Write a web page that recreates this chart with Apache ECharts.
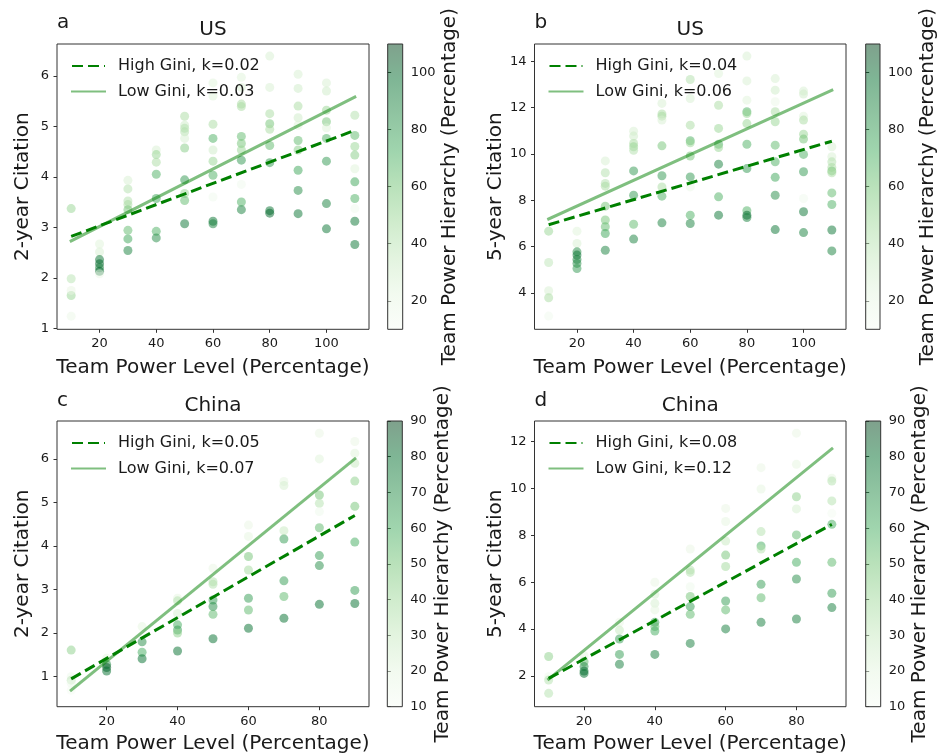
<!DOCTYPE html>
<html><head><meta charset="utf-8">
<script src="https://cdn.jsdelivr.net/npm/echarts@6/dist/echarts.min.js"></script>
<style>html,body{margin:0;padding:0;background:#fff}#c{width:939px;height:755px}</style>
</head><body><div id="c"></div>
<script>
// ---------- tick labels ----------
const powerTicksUS = [20, 40, 60, 80, 100];
const powerTicksCN = [20, 40, 60, 80];
const cite2TicksUS = [1, 2, 3, 4, 5, 6];
const cite5TicksUS = [4, 6, 8, 10, 12, 14];
const cite2TicksCN = [1, 2, 3, 4, 5, 6];
const cite5TicksCN = [2, 4, 6, 8, 10, 12];
const hierTicksUS = [20, 40, 60, 80, 100];
const hierTicksCN = [10, 20, 30, 40, 50, 60, 70, 80, 90];
const hierRangeUS = [10, 110];
const hierRangeCN = [10, 90];

// ---------- points: [team power level, citation, team power hierarchy] ----------
const pointsA = [
  [10,3.37,50],[10,1.98,40],[10,1.65,50],[10,1.75,20],[10,1.24,18],
  [20,2.67,25],[20,2.51,28],[20,2.36,95],[20,2.28,100],[20,2.20,90],[20,2.13,100],[20,2.08,18],
  [30,3.93,28],[30,3.76,42],[30,3.52,42],[30,3.45,45],[30,3.35,60],[30,2.94,65],[30,2.77,75],[30,2.54,90],
  [40,4.53,28],[40,4.44,50],[40,4.29,45],[40,4.05,70],[40,3.57,75],[40,2.92,70],[40,2.79,85],
  [50,5.20,45],[50,5.02,32],[50,4.96,42],[50,4.89,42],[50,4.76,28],[50,4.57,55],[50,3.94,80],[50,3.67,50],[50,3.53,65],[50,3.07,95],
  [60,5.86,25],[60,5.60,25],[60,5.04,45],[60,4.76,70],[60,4.53,32],[60,4.31,50],[60,4.03,70],[60,3.60,15],[60,3.12,95],[60,3.07,90],
  [70,5.97,25],[70,5.77,28],[70,5.44,45],[70,5.39,45],[70,4.80,65],[70,4.66,60],[70,4.53,50],[70,4.33,80],[70,3.85,15],[70,3.50,70],[70,3.35,90],
  [80,6.39,28],[80,5.77,28],[80,5.25,45],[80,5.05,60],[80,4.94,45],[80,4.62,65],[80,4.28,80],[80,3.33,95],[80,3.28,100],
  [90,6.03,28],[90,5.75,32],[90,5.40,45],[90,5.17,32],[90,5.02,25],[90,4.72,65],[90,4.53,55],[90,4.13,75],[90,3.73,85],[90,3.27,95],
  [100,5.86,28],[100,5.70,32],[100,5.32,50],[100,5.09,60],[100,4.97,25],[100,4.76,70],[100,4.31,80],[100,3.47,90],[100,2.97,95],
  [110,5.22,42],[110,4.82,65],[110,4.60,50],[110,4.43,55],[110,4.16,25],[110,3.90,75],[110,3.57,70],[110,3.37,15],[110,3.12,95],[110,2.66,95]
];
const pointsB = [
  [10,6.67,50],[10,5.32,38],[10,4.10,28],[10,3.80,45],[10,3.01,15],
  [20,6.67,25],[20,6.14,28],[20,5.78,85],[20,5.64,95],[20,5.45,90],[20,5.28,85],[20,5.06,80],
  [30,9.70,28],[30,9.19,42],[30,8.73,42],[30,8.61,45],[30,7.75,60],[30,7.15,60],[30,6.86,65],[30,6.57,75],[30,5.85,90],
  [40,10.98,28],[40,10.77,32],[40,10.45,45],[40,10.31,50],[40,10.16,42],[40,9.27,80],[40,8.22,80],[40,6.97,65],[40,6.33,90],
  [50,12.18,28],[50,11.72,45],[50,11.63,45],[50,11.46,28],[50,10.35,60],[50,9.06,80],[50,8.58,45],[50,8.18,70],[50,7.03,90],
  [60,13.21,42],[60,12.39,28],[60,11.24,45],[60,10.57,70],[60,10.48,50],[60,9.91,60],[60,9.01,80],[60,8.58,18],[60,7.36,70],[60,7.00,90],
  [70,13.47,25],[70,12.10,45],[70,11.10,50],[70,10.42,70],[70,10.28,50],[70,9.56,90],[70,8.15,70],[70,7.36,95],
  [80,14.22,28],[80,13.15,28],[80,12.32,25],[80,11.82,70],[80,11.74,50],[80,11.31,50],[80,10.42,70],[80,9.37,80],[80,7.55,70],[80,7.36,100],[80,7.26,90],
  [90,13.25,28],[90,12.75,32],[90,12.25,18],[90,11.82,45],[90,11.39,50],[90,10.38,65],[90,9.66,70],[90,8.99,75],[90,8.22,85],[90,6.74,95],
  [100,12.71,28],[100,12.58,32],[100,11.63,25],[100,11.46,45],[100,10.85,50],[100,10.64,60],[100,9.98,70],[100,9.23,80],[100,8.08,15],[100,7.51,95],[100,6.61,90],
  [110,10.31,28],[110,9.88,28],[110,9.66,42],[110,9.42,45],[110,9.27,60],[110,9.19,45],[110,8.32,65],[110,7.82,70],[110,6.72,95],[110,5.82,90]
];
const pointsC = [
  [10,1.61,45],[10,1.00,15],[10,0.92,32],[10,0.85,15],[10,0.69,12],
  [20,1.42,20],[20,1.28,70],[20,1.21,85],[20,1.13,80],
  [30,2.15,20],[30,1.80,70],[30,1.56,60],[30,1.41,80],
  [40,2.80,20],[40,2.74,35],[40,2.45,25],[40,2.19,60],[40,2.07,65],[40,2.00,45],[40,1.59,80],
  [50,3.49,18],[50,3.18,35],[50,3.12,35],[50,2.76,65],[50,2.61,70],[50,2.43,55],[50,1.87,80],
  [60,4.48,18],[60,4.22,20],[60,3.76,50],[60,3.45,40],[60,2.80,65],[60,2.53,55],[60,2.11,80],
  [70,5.48,20],[70,5.39,25],[70,4.35,30],[70,4.16,65],[70,3.20,65],[70,2.84,55],[70,2.34,80],
  [80,6.59,18],[80,6.00,22],[80,5.17,50],[80,4.98,35],[80,4.79,15],[80,4.42,55],[80,3.78,65],[80,3.55,70],[80,2.66,80],
  [90,6.40,18],[90,6.13,22],[90,5.90,30],[90,5.49,45],[90,4.91,50],[90,4.09,60],[90,2.98,65],[90,2.68,80]
];
const pointsD = [
  [10,2.83,45],[10,1.97,15],[10,1.83,35],[10,1.26,35],
  [20,2.87,20],[20,2.61,55],[20,2.40,70],[20,2.21,80],[20,2.11,80],
  [30,4.29,18],[30,3.96,30],[30,3.58,65],[30,2.92,65],[30,2.50,75],
  [40,6.00,18],[40,5.49,25],[40,5.10,25],[40,4.82,20],[40,4.29,65],[40,4.11,55],[40,3.92,60],[40,2.92,75],
  [50,7.42,18],[50,6.52,35],[50,6.42,35],[50,5.81,15],[50,5.39,50],[50,4.96,65],[50,4.63,55],[50,3.39,75],
  [60,9.15,18],[60,8.59,20],[60,7.76,30],[60,7.16,50],[60,6.67,40],[60,5.20,65],[60,4.82,55],[60,4.01,75],
  [70,10.89,18],[70,9.98,20],[70,8.16,35],[70,7.55,60],[70,7.42,35],[70,5.91,65],[70,5.34,55],[70,4.29,75],
  [80,12.36,18],[80,11.03,20],[80,9.65,45],[80,9.13,25],[80,8.02,55],[80,6.85,60],[80,6.14,70],[80,4.43,75],
  [90,10.44,20],[90,10.32,35],[90,9.47,35],[90,8.94,12],[90,8.47,60],[90,6.85,55],[90,5.53,65],[90,4.92,75]
];

// ---------- fitted lines (end points) ----------
const lineXUS = [10, 110];
const lineXCN = [10, 90];
const highGiniA = [2.82, 4.92], lowGiniA = [2.73, 5.58];
const highGiniB = [6.95, 10.55], lowGiniB = [7.20, 12.75];
const highGiniC = [0.95, 4.70], lowGiniC = [0.69, 6.00];
const highGiniD = [1.90, 8.47], lowGiniD = [1.87, 11.69];
const legendA = ['High Gini, k=0.02', 'Low Gini, k=0.03'];
const legendB = ['High Gini, k=0.04', 'Low Gini, k=0.06'];
const legendC = ['High Gini, k=0.05', 'Low Gini, k=0.07'];
const legendD = ['High Gini, k=0.08', 'Low Gini, k=0.12'];

const letters = ['a', 'b', 'c', 'd'];
const countries = ['US', 'US', 'China', 'China'];
const yNames = ['2-year Citation', '5-year Citation', '2-year Citation', '5-year Citation'];
const xName = 'Team Power Level (Percentage)';
const cName = 'Team Power Hierarchy (Percentage)';

// ---------- layout / style ----------
const greens = ['#f7fcf5','#e5f5e0','#c7e9c0','#a1d99b','#74c476','#41ab5d','#238b45','#006d2c','#00441b'];
function rgba(hex, a) {
  const n = parseInt(hex.slice(1), 16);
  return 'rgba(' + (n >> 16) + ',' + ((n >> 8) & 255) + ',' + (n & 255) + ',' + a + ')';
}
const FONT = 'DejaVu Sans';
const TXT = '#1a1a1a';
const EDGE = '#333';

const panels = [
  { pts: pointsA, hi: highGiniA, lo: lowGiniA, lx: lineXUS, leg: legendA, xt: powerTicksUS, yt: cite2TicksUS, ht: hierTicksUS, hr: hierRangeUS,
    grid: {left: 57, top: 44, width: 312, height: 285.3}, cb: {left: 387.7, top: 44, width: 15, height: 285.3},
    xr: [5, 115], yr: [0.98, 6.63], xGap: 28, cGap: 37 },
  { pts: pointsB, hi: highGiniB, lo: lowGiniB, lx: lineXUS, leg: legendB, xt: powerTicksUS, yt: cite5TicksUS, ht: hierTicksUS, hr: hierRangeUS,
    grid: {left: 534.5, top: 44, width: 311.5, height: 285.3}, cb: {left: 865.7, top: 44, width: 15, height: 285.3},
    xr: [5, 115], yr: [2.44, 14.74], xGap: 28, cGap: 38 },
  { pts: pointsC, hi: highGiniC, lo: lowGiniC, lx: lineXCN, leg: legendC, xt: powerTicksCN, yt: cite2TicksCN, ht: hierTicksCN, hr: hierRangeCN,
    grid: {left: 57, top: 421, width: 312, height: 285.7}, cb: {left: 387.3, top: 421, width: 15, height: 285.7},
    xr: [6, 94], yr: [0.31, 6.87], xGap: 27, cGap: 30 },
  { pts: pointsD, hi: highGiniD, lo: lowGiniD, lx: lineXCN, leg: legendD, xt: powerTicksCN, yt: cite5TicksCN, ht: hierTicksCN, hr: hierRangeCN,
    grid: {left: 534.5, top: 421, width: 311.5, height: 285.7}, cb: {left: 865.7, top: 421, width: 15, height: 285.7},
    xr: [6, 94], yr: [0.69, 12.88], xGap: 27, cGap: 29 }
];

const option = {
  animation: false,
  textStyle: { fontFamily: FONT },
  title: [], grid: [], xAxis: [], yAxis: [], series: [], legend: [], visualMap: []
};

panels.forEach((p, i) => {
  option.grid.push(Object.assign({ show: true, borderColor: EDGE, borderWidth: 1, backgroundColor: 'transparent' }, p.grid));
  option.grid.push(Object.assign({ show: false }, p.cb));
  const gi = option.grid.length - 2;

  const tickStyle = { show: true, inside: false, length: 3.5, lineStyle: { color: EDGE, width: 1 } };
  const lblStyle = { color: TXT, fontSize: 13, fontFamily: FONT, margin: 8 };

  option.xAxis.push({
    type: 'value', gridIndex: gi, min: p.xr[0], max: p.xr[1],
    axisLine: { show: false }, splitLine: { show: false },
    axisTick: Object.assign({ customValues: p.xt }, tickStyle),
    axisLabel: Object.assign({ customValues: p.xt }, lblStyle),
    name: xName, nameLocation: 'middle', nameGap: p.xGap,
    nameTextStyle: { fontSize: 20, color: TXT, fontFamily: FONT }
  });
  option.yAxis.push({
    type: 'value', gridIndex: gi, min: p.yr[0], max: p.yr[1],
    axisLine: { show: false }, splitLine: { show: false },
    axisTick: Object.assign({ customValues: p.yt }, tickStyle),
    axisLabel: Object.assign({ customValues: p.yt }, lblStyle),
    name: yNames[i], nameLocation: 'middle', nameGap: 24, nameRotate: 90,
    nameTextStyle: { fontSize: 20, color: TXT, fontFamily: FONT }
  });
  option.xAxis.push({ type: 'value', gridIndex: gi + 1, min: 0, max: 1, show: false });
  option.yAxis.push({
    type: 'value', gridIndex: gi + 1, min: p.hr[0], max: p.hr[1], position: 'right',
    axisLine: { show: false }, splitLine: { show: false },
    axisTick: Object.assign({ customValues: p.ht }, tickStyle),
    axisLabel: Object.assign({ customValues: p.ht }, lblStyle),
    name: cName, nameLocation: 'middle', nameGap: p.cGap, nameRotate: 90,
    nameTextStyle: { fontSize: 20, color: TXT, fontFamily: FONT }
  });

  const axisIdx = option.xAxis.length - 2;

  option.series.push({
    type: 'scatter', xAxisIndex: axisIdx, yAxisIndex: axisIdx,
    data: p.pts, symbol: 'circle', symbolSize: 9,
    itemStyle: { opacity: 0.5 }, silent: true, z: 2
  });
  option.visualMap.push({
    type: 'continuous', show: false, seriesIndex: option.series.length - 1,
    dimension: 2, min: p.hr[0], max: p.hr[1], inRange: { color: greens }
  });
  option.series.push({
    type: 'line', name: p.leg[0], xAxisIndex: axisIdx, yAxisIndex: axisIdx,
    data: p.lx.map((x, k) => [x, p.hi[k]]), symbol: 'none', silent: true, z: 3,
    lineStyle: { color: '#008000', width: 3, type: [11, 5] }, itemStyle: { color: '#008000' }
  });
  option.series.push({
    type: 'line', name: p.leg[1], xAxisIndex: axisIdx, yAxisIndex: axisIdx,
    data: p.lx.map((x, k) => [x, p.lo[k]]), symbol: 'none', silent: true, z: 3,
    lineStyle: { color: 'rgba(0,128,0,0.5)', width: 3, type: 'solid', cap: 'square' }, itemStyle: { color: 'rgba(0,128,0,0.5)' }
  });
  option.series.push({
    type: 'custom', xAxisIndex: axisIdx + 1, yAxisIndex: axisIdx + 1, silent: true,
    data: [[0, p.hr[0], p.hr[1]]],
    renderItem: function (params, api) {
      const a = api.coord([0, api.value(1)]);
      const b = api.coord([1, api.value(2)]);
      const x = Math.min(a[0], b[0]), y = Math.min(a[1], b[1]);
      const w = Math.abs(b[0] - a[0]), h = Math.abs(b[1] - a[1]);
      const stops = greens.map((c, k) => ({ offset: k / (greens.length - 1), color: rgba(c, 0.5) }));
      return { type: 'group', children: [
        { type: 'rect', shape: { x, y, width: w, height: h },
          style: { fill: new echarts.graphic.LinearGradient(0, 1, 0, 0, stops) } },
        { type: 'rect', shape: { x, y, width: w, height: h },
          style: { fill: 'none', stroke: EDGE, lineWidth: 1 } }
      ] };
    }
  });

  option.legend.push({
    data: p.leg, orient: 'vertical', left: p.grid.left + 14, top: p.grid.top + 14,
    padding: 0, itemWidth: 33, itemHeight: 14, itemGap: 9.5, selectedMode: false,
    itemStyle: { opacity: 0, color: 'transparent', borderWidth: 0 },
    textStyle: { fontSize: 16, color: TXT, fontFamily: FONT, padding: [0, 0, 0, 8] }
  });

  const cx = p.grid.left + p.grid.width / 2;
  const isTop = i < 2;
  option.title.push({ text: countries[i], left: cx, top: isTop ? 20 : 396, textAlign: 'center', padding: 0,
    textStyle: { fontSize: 20, fontWeight: 'normal', color: TXT, fontFamily: FONT } });
  option.title.push({ text: letters[i], left: p.grid.left, top: isTop ? 13 : 391, padding: 0,
    textStyle: { fontSize: 20, fontWeight: 'normal', color: TXT, fontFamily: FONT } });
});

const chart = echarts.init(document.getElementById('c'), null, { renderer: 'canvas' });
chart.setOption(option);
</script>
</body></html>
